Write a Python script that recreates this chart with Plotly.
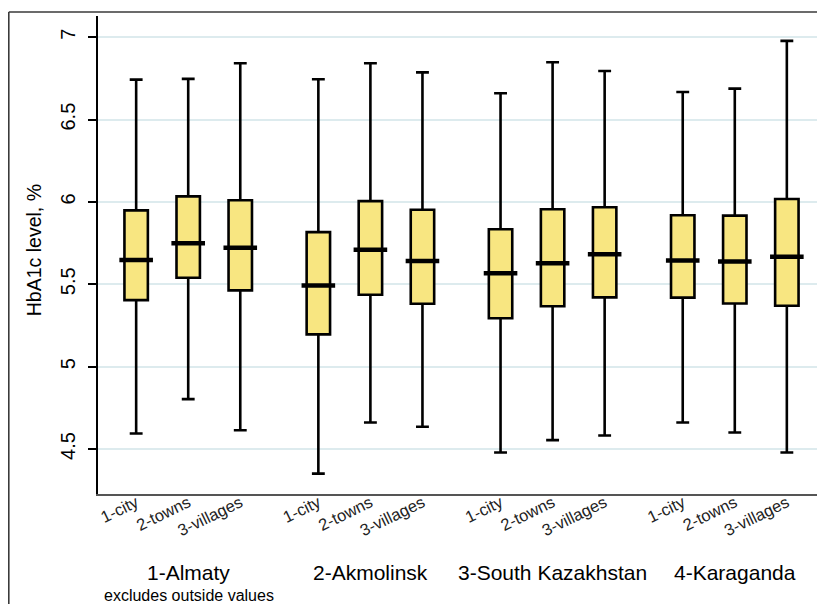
import plotly.graph_objects as go

regions = ["1-Almaty", "2-Akmolinsk", "3-South Kazakhstan", "4-Karaganda"]
settlements = ["1-city", "2-towns", "3-villages"]

# per region: [city, towns, villages]
upper_whisker = [[6.743, 6.747, 6.842], [6.745, 6.842, 6.787], [6.660, 6.848, 6.795], [6.668, 6.688, 6.978]]
q3 = [[5.949, 6.034, 6.010], [5.817, 6.005, 5.953], [5.834, 5.956, 5.968], [5.919, 5.917, 6.018]]
median = [[5.647, 5.750, 5.722], [5.493, 5.710, 5.641], [5.567, 5.628, 5.682], [5.645, 5.639, 5.668]]
q1 = [[5.404, 5.540, 5.463], [5.196, 5.437, 5.382], [5.294, 5.367, 5.421], [5.419, 5.384, 5.370]]
lower_whisker = [[4.594, 4.803, 4.614], [4.351, 4.661, 4.635], [4.479, 4.554, 4.582], [4.661, 4.600, 4.479]]

note = "excludes outside values"
ytitle = "HbA1c level, %"
yticks = [4.5, 5, 5.5, 6, 6.5, 7]

GROUP_STEP = 3.5
xs, xlab, Q1, MED, Q3, LF, UF = [], [], [], [], [], [], []
for g in range(len(regions)):
    for s in range(len(settlements)):
        xs.append(g * GROUP_STEP + s)
        xlab.append(settlements[s])
        Q1.append(q1[g][s]); MED.append(median[g][s]); Q3.append(q3[g][s])
        LF.append(lower_whisker[g][s]); UF.append(upper_whisker[g][s])
group_centers = [g * GROUP_STEP + 1 for g in range(len(regions))]

fill = "#F8E681"
fig = go.Figure()
fig.add_trace(go.Box(
    x=xs, q1=Q1, median=MED, q3=Q3, lowerfence=LF, upperfence=UF,
    boxpoints=False, width=0.45, whiskerwidth=0.55,
    fillcolor=fill, line=dict(color="black", width=2.6),
    showlegend=False, hoverinfo="skip"))
fig.add_trace(go.Scatter(
    x=xs, y=MED, mode="markers", showlegend=False, hoverinfo="skip",
    marker=dict(symbol="line-ew", size=24, color="black",
                line=dict(color="black", width=4.5))))

font = "Liberation Sans, Arial, sans-serif"
for c, r in zip(group_centers, regions):
    fig.add_annotation(x=c, y=-0.165, xref="x", yref="paper", text=r,
                       showarrow=False, font=dict(family=font, size=21, color="black"),
                       xanchor="center", yanchor="middle")
fig.add_annotation(x=0.0055, y=-0.2113, xref="paper", yref="paper", text=note,
                   showarrow=False, font=dict(family=font, size=16, color="black"),
                   xanchor="left", yanchor="middle")
fig.add_annotation(x=-0.088, y=0.51, xref="paper", yref="paper", text=ytitle,
                   textangle=-90, showarrow=False,
                   font=dict(family=font, size=19.5, color="black"),
                   xanchor="center", yanchor="middle")

# outer frame (Stata graph region)
fig.add_shape(type="line", xref="paper", yref="paper", x0=-0.1227, x1=-0.1227, y0=-0.3, y1=1.0084,
              line=dict(color="#3a3a3a", width=1.6))
fig.add_shape(type="line", xref="paper", yref="paper", x0=-0.1227, x1=1.05, y0=1.0084, y1=1.0084,
              line=dict(color="#3a3a3a", width=1.6))

fig.update_layout(
    width=817, height=596,
    margin=dict(l=90, r=0, t=8, b=110),
    paper_bgcolor="white", plot_bgcolor="white",
    font=dict(family=font, color="black"),
    xaxis=dict(range=[-0.733, 13.233], tickmode="array", tickvals=xs, ticktext=xlab,
               tickangle=-26, tickfont=dict(size=16.5, color="#222"), ticks="",
               ticklabelstandoff=-9,
               showgrid=False, zeroline=False, showline=True, linecolor="#555", linewidth=2),
    yaxis=dict(range=[4.227, 7.129], tickmode="array", tickvals=yticks,
               ticktext=[str(v) for v in yticks], tickangle=-90,
               tickfont=dict(size=20, color="black"), ticks="outside", ticklen=8,
               tickwidth=1.5, tickcolor="black", ticklabelstandoff=5,
               showgrid=True, gridcolor="#DDEBEE", gridwidth=2, zeroline=False,
               showline=True, linecolor="black", linewidth=1.5),
)
fig.write_html("out.html")
